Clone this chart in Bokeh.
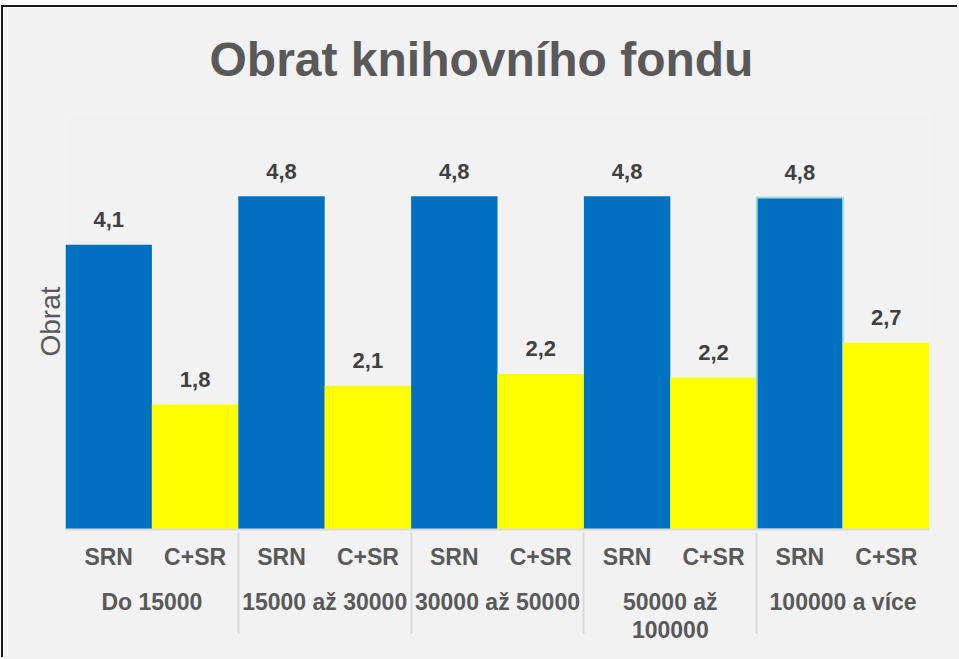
from bokeh.plotting import figure
from bokeh.models import FactorRange, ColumnDataSource, Range1d, FixedTicker
from bokeh.embed import file_html
from bokeh.resources import INLINE
from bokeh.core.properties import value

# ---- data ----
groups = ["Do 15000", "15000 až 30000", "30000 až 50000", "50000 až\n100000", "100000 a více"]
series = ["SRN", "C+SR"]
srn = [4.10, 4.80, 4.80, 4.80, 4.78]
csr = [1.80, 2.07, 2.24, 2.19, 2.69]
title_text = "Obrat knihovního fondu"
y_label = "Obrat"
series_colors = ["#0070C0", "#FFFF00"]

FONT = "Liberation Sans"
GREY = "#595959"

# a trailing empty line under each series label adds the gap before the group row
factors, vals, fills, lcols, lalpha, labels = [], [], [], [], [], []
for i, (g, a, b) in enumerate(zip(groups, srn, csr)):
    for s, v, c in zip(series, (a, b), series_colors):
        factors.append((g, s + "\n"))
        vals.append(v)
        fills.append(c)
        highlighted = (i == len(groups) - 1 and s == "SRN")
        lcols.append("#a9d6e5" if highlighted else c)
        lalpha.append(1.0 if highlighted else 0.0)
        labels.append(f"{v:.1f}".replace(".", ","))

src = ColumnDataSource(dict(x=factors, top=vals, fill=fills, lc=lcols, la=lalpha, label=labels))

p = figure(
    x_range=FactorRange(factors=factors, range_padding=0, factor_padding=0, group_padding=0),
    y_range=Range1d(0, 5.99),
    width=956, height=652,
    output_backend="svg", toolbar_location=None,
    min_border_left=62, min_border_right=30, min_border_top=105, min_border_bottom=130,
    background_fill_color="#f2f2f2", border_fill_color="#f2f2f2",
    outline_line_color=None,
)
p.margin = (7, 0, 0, 3)
p.styles = {"box-shadow": "-2px -2px 0px 0px #1a1a1a"}

p.title.text = title_text
p.title.align = "left"
p.title.vertical_align = "top"
p.title.offset = 144
p.title.standoff = 51
p.title.text_font = FONT
p.title.text_font_style = "bold"
p.title.text_font_size = "48px"
p.title.text_color = GREY

p.vbar(x="x", top="top", width=1.0, source=src, fill_color="fill",
       line_color="lc", line_alpha="la", line_width=2)

p.text(x="x", y="top", text="label", source=src, text_align="center",
       text_baseline="alphabetic", y_offset=-25,
       text_font=value(FONT), text_font_style="bold",
       text_font_size=value("22px"), text_color="#404040")

p.xgrid.grid_line_color = None
p.ygrid.grid_line_color = None

# y axis: only its title
yax = p.yaxis[0]
yax.ticker = FixedTicker(ticks=[])
yax.axis_label = y_label
yax.axis_label_text_font = FONT
yax.axis_label_text_font_style = "normal"
yax.axis_label_text_font_size = "28px"
yax.axis_label_text_color = GREY
yax.major_label_standoff = 0
yax.major_tick_line_color = None
yax.minor_tick_line_color = None
yax.axis_line_color = None
yax.axis_label_standoff = 0

# x axis: nested categories
xax = p.xaxis[0]
xax.axis_line_color = "#d9d9d9"
xax.axis_line_width = 2
xax.major_tick_line_color = None
xax.minor_tick_line_color = None
xax.major_label_text_font = FONT
xax.major_label_text_font_style = "bold"
xax.major_label_text_font_size = "23px"
xax.major_label_text_line_height = 0.34
xax.major_label_text_color = GREY
xax.major_label_standoff = 8
xax.group_text_font = FONT
xax.group_text_font_style = "bold"
xax.group_text_font_size = "23px"
xax.group_text_line_height = 1.05
xax.group_text_color = GREY
xax.separator_line_color = "#d9d9d9"
xax.separator_line_width = 2

open("out.html", "w").write(file_html(p, INLINE))
